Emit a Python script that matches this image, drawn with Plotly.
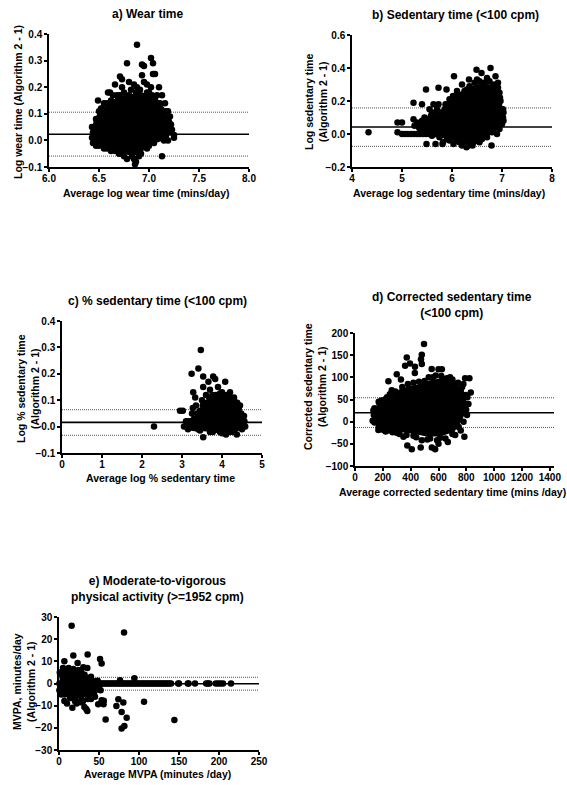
import plotly.graph_objects as go

W, H = 567, 785

# ---------------- data: a) Wear time ----------------
a_core = [(6.44, 0.03), (6.46, 0.07), (6.50, 0.10), (6.55, 0.12), (6.60, 0.13), (6.66, 0.15),
          (6.72, 0.16), (6.78, 0.15), (6.84, 0.17), (6.90, 0.18), (6.96, 0.17), (7.02, 0.16),
          (7.08, 0.15), (7.14, 0.12), (7.19, 0.08), (7.21, 0.04), (7.18, 0.01), (7.10, 0.00),
          (7.02, -0.01), (6.95, -0.03), (6.88, -0.05), (6.80, -0.05), (6.72, -0.04),
          (6.64, -0.03), (6.56, -0.02), (6.48, -0.01), (6.44, 0.00)]
a_points = [(6.88, 0.36), (6.78, 0.29), (6.93, 0.285), (6.95, 0.28), (7.02, 0.31), (7.04, 0.29),
            (6.71, 0.24), (6.73, 0.23), (6.93, 0.245), (7.04, 0.25), (7.06, 0.25), (6.66, 0.21),
            (6.73, 0.20), (6.80, 0.22), (6.85, 0.21), (6.88, 0.20), (6.98, 0.21), (6.59, 0.18),
            (6.61, 0.18), (6.49, 0.15), (6.52, 0.12), (7.02, 0.20), (7.10, 0.20), (7.13, 0.17),
            (7.16, 0.14), (7.19, 0.11), (7.21, 0.09), (7.23, 0.04), (7.25, 0.02), (7.25, 0.01),
            (7.22, 0.03), (6.86, -0.09), (6.87, -0.08), (6.85, -0.07), (7.13, -0.06), (6.78, -0.07),
            (6.75, -0.06), (6.70, -0.05), (6.62, -0.04), (6.55, -0.03), (6.47, -0.02), (6.44, 0.03),
            (6.43, 0.01), (6.45, 0.05), (6.55, 0.14), (6.64, 0.17), (6.68, 0.17), (6.75, 0.18),
            (6.82, 0.19), (6.95, 0.22), (7.00, 0.18), (7.08, 0.17), (6.92, -0.05), (7.00, -0.02),
            (7.15, 0.00),
            (6.47, 0.08), (6.50, 0.11), (6.53, 0.12), (6.58, 0.14), (6.62, 0.15), (6.69, 0.16),
            (6.71, 0.17), (6.77, 0.16), (6.80, 0.17), (6.87, 0.18), (6.91, 0.19), (6.98, 0.18),
            (7.03, 0.17), (7.06, 0.16), (7.11, 0.14), (7.17, 0.11), (7.20, 0.07), (7.22, 0.06),
            (7.19, 0.00), (7.05, -0.01), (6.98, -0.03), (6.90, -0.06), (6.83, -0.06),
            (6.73, -0.05), (6.66, -0.04), (6.58, -0.03), (6.50, -0.02), (6.44, -0.01), (6.43, 0.05)]
a_stats = (0.023, 0.106, -0.059)  # bias, upper LoA, lower LoA
a_xticks = [6.0, 6.5, 7.0, 7.5, 8.0]
a_yticks = [-0.1, 0.0, 0.1, 0.2, 0.3, 0.4]

# ---------------- data: b) Sedentary time ----------------
b_core = [(5.26, 0.044), (5.46, 0.085), (5.73, 0.115), (5.93, 0.166), (6.06, 0.22), (6.19, 0.25),
          (6.39, 0.28), (6.59, 0.30), (6.79, 0.29), (6.92, 0.27), (6.96, 0.206), (6.99, 0.145),
          (6.99, 0.065), (6.86, 0.024), (6.66, -0.016), (6.46, -0.056), (6.26, -0.066),
          (6.06, -0.036), (5.86, -0.016), (5.59, -0.006), (5.33, 0.0)]
b_points = [(4.33, 0.01), (4.91, 0.07), (5.0, 0.07), (4.91, 0.01), (5.0, 0.0), (5.06, 0.0),
            (5.12, 0.0), (5.18, 0.0), (5.24, 0.0), (5.30, 0.0), (5.36, 0.0), (5.42, 0.0),
            (5.48, 0.0), (5.23, 0.19), (5.48, 0.27), (5.73, 0.28), (5.89, 0.27), (6.04, 0.35),
            (6.34, 0.33), (6.49, 0.39), (6.59, 0.37), (6.77, 0.40), (6.87, 0.35), (6.92, 0.31),
            (6.85, 0.30), (6.95, 0.25), (6.97, 0.20), (7.02, 0.15), (7.0, 0.06), (7.02, 0.10),
            (5.49, -0.06), (5.67, -0.06), (5.81, -0.06), (5.82, -0.05), (6.03, -0.06),
            (6.29, -0.08), (6.41, -0.07), (6.79, -0.07), (5.40, 0.18), (5.63, 0.18), (5.73, 0.18),
            (5.87, 0.18), (5.23, 0.09), (5.30, 0.07), (5.35, 0.05), (5.55, 0.15), (5.60, 0.13),
            (5.45, 0.10), (5.70, 0.15), (5.95, 0.21), (6.10, 0.26), (6.20, 0.30), (6.30, 0.27),
            (6.50, 0.33), (6.70, 0.34), (6.15, -0.05), (6.50, -0.04), (6.60, -0.03), (6.90, 0.0),
            (6.20, -0.07), (5.95, -0.04),
            (5.25, 0.05), (5.32, 0.06), (5.40, 0.08), (5.50, 0.09), (5.58, 0.11), (5.66, 0.12),
            (5.78, 0.13), (5.85, 0.15), (5.90, 0.18), (5.98, 0.19), (6.02, 0.23), (6.12, 0.24),
            (6.25, 0.26), (6.35, 0.29), (6.45, 0.31), (6.55, 0.32), (6.64, 0.31), (6.75, 0.32),
            (6.82, 0.29), (6.92, 0.28), (6.96, 0.22), (7.03, 0.13), (7.03, 0.08), (6.95, 0.03),
            (6.80, 0.01), (6.70, -0.02), (6.55, -0.05), (6.40, -0.06), (6.33, -0.07),
            (6.10, -0.04), (5.90, -0.03), (5.75, -0.02), (5.60, -0.01), (5.54, 0.0)]
b_stats = (0.042, 0.158, -0.075)
b_xticks = [4, 5, 6, 7, 8]
b_yticks = [-0.2, 0.0, 0.2, 0.4, 0.6]

# ---------------- data: c) % sedentary time ----------------
c_core = [(3.12, 0.006), (3.41, 0.038), (3.58, 0.076), (3.74, 0.101), (3.95, 0.113),
          (4.16, 0.113), (4.33, 0.094), (4.45, 0.063), (4.52, 0.031), (4.53, 0.0),
          (4.37, -0.013), (4.12, -0.019), (3.87, -0.019), (3.62, -0.013), (3.37, -0.010),
          (3.12, -0.010)]
c_points = [(2.30, 0.0), (2.95, 0.06), (3.02, 0.06), (3.47, 0.29), (3.41, 0.22), (3.24, 0.20),
            (3.53, 0.19), (3.78, 0.19), (3.83, 0.18), (4.08, 0.17), (3.66, 0.17), (3.28, 0.13),
            (3.33, 0.11), (3.53, 0.15), (3.70, 0.14), (3.60, 0.12), (3.90, 0.15), (4.0, 0.13),
            (4.2, 0.13), (4.3, 0.11), (3.27, 0.07), (3.25, 0.05), (3.35, 0.08), (3.5, 0.10),
            (3.53, -0.04), (3.77, -0.02), (4.1, -0.03), (4.37, -0.03), (4.53, 0.02), (4.58, 0.0),
            (4.55, 0.04), (4.45, 0.08), (3.05, 0.0), (3.10, 0.0), (3.20, 0.0), (3.30, -0.005),
            (3.10, 0.02), (4.2, -0.02), (3.95, -0.02), (3.40, -0.01),
            (3.15, 0.02), (3.22, 0.02), (3.30, 0.03), (3.38, 0.05), (3.45, 0.06), (3.52, 0.08),
            (3.62, 0.09), (3.68, 0.11), (3.76, 0.12), (3.85, 0.12), (3.95, 0.125), (4.05, 0.12),
            (4.12, 0.12), (4.22, 0.11), (4.30, 0.10), (4.38, 0.09), (4.42, 0.07), (4.48, 0.05),
            (4.56, 0.02), (4.50, -0.01), (4.30, -0.02), (4.00, -0.025), (3.70, -0.02),
            (3.45, -0.015), (3.15, -0.01)]
c_stats = (0.016, 0.064, -0.033)
c_xticks = [0, 1, 2, 3, 4, 5]
c_yticks = [-0.1, 0.0, 0.1, 0.2, 0.3, 0.4]

# ---------------- data: d) Corrected sedentary time ----------------
d_core = [(156, 36), (204, 43), (276, 58), (324, 70), (396, 77), (468, 81), (540, 90), (612, 94),
          (683, 90), (731, 80), (779, 64), (788, 47), (788, 25), (755, 2), (707, -20), (612, -30),
          (516, -30), (420, -24), (324, -20), (228, -16), (168, -9), (144, 10)]
d_points = [(496, 175), (480, 151), (474, 141), (480, 130), (372, 145), (360, 126), (395, 131),
            (431, 124), (551, 119), (600, 118), (624, 118), (240, 91), (300, 107), (330, 95),
            (791, 98), (822, 98), (779, 85), (832, 66), (683, 100), (650, 95), (264, 71),
            (132, 25), (127, 2), (168, -19), (140, 20), (180, -15), (348, -34), (376, -54),
            (408, -62), (472, -58), (552, -58), (576, -62), (600, -50), (667, -46), (786, -34),
            (612, -36), (799, 27), (808, 55), (815, 40), (760, -20), (720, -30), (440, -35),
            (300, -25), (250, -20), (200, -18), (520, -40), (560, 100), (430, 110), (700, 85),
            (760, 70), (230, 55), (190, 48), (160, 25),
            (140, 30), (170, 45), (215, 50), (250, 62), (290, 68), (340, 78), (380, 85),
            (420, 88), (460, 90), (500, 92), (530, 100), (580, 104), (620, 103), (660, 98),
            (700, 95), (740, 88), (770, 78), (795, 60), (800, 40), (805, 15), (780, 0),
            (745, -12), (700, -28), (650, -38), (590, -42), (540, -38), (480, -42), (420, -32),
            (370, -30), (320, -28), (270, -24), (220, -22), (170, -12), (140, -2), (135, 15)]
d_stats = (20, 54, -13)
d_xticks = [0, 200, 400, 600, 800, 1000, 1200, 1400]
d_yticks = [-100, -50, 0, 50, 100, 150, 200]

# ---------------- data: e) MVPA ----------------
e_core = [(0.5, 4), (3, 5.5), (8, 5), (15, 5), (22, 4.5), (28, 3.5), (35, 2), (40, 1), (42, -1),
          (38, -4), (32, -5.5), (25, -6), (18, -6), (10, -5), (4, -3), (1, -1)]
e_points = [(15.8, 26), (81.3, 23), (6.7, 10), (17.9, 12.6), (23.3, 9.2), (35.8, 13.1),
            (51.3, 11), (53.3, 9), (30.4, 7.3), (35.4, 7), (94.2, 2.4), (76.3, 1.5), (48.3, 1.2),
            (6.7, -7.9), (16.7, -10.9), (31.7, -10.6), (35.4, -12.4), (34, -11.5), (49, -9.4),
            (55.7, -9.4), (53.3, -7.6), (56, -7.8), (58.3, -16.2), (71.7, -10.1), (74.2, -7.1),
            (80.4, -8.6), (78.3, -12.9), (84.6, -15.4), (78.3, -20.3), (81.7, -19.2),
            (106.3, -8.2), (144.2, -16.5), (4, 4), (10, 6), (24, 6), (28, 5), (40, 3), (45, -3),
            (50, -2), (45, -6), (40, -7), (27, -8.5), (20, -8), (12, -5), (2, -2), (44, -4),
            (38, -5.5), (30, -8), (22, -9), (15, -3), (25, -4), (8, 2), (0.5, 0), (47, -1.5),
            (52, -3), (10, -9),
            (1, 5), (5, 7), (12, 7), (18, 6.5), (25, 6), (32, 4), (38, 2.5), (44, 1), (46, -2),
            (42, -5), (36, -7), (28, -7), (20, -7.5), (14, -6.5), (7, -5), (3, -5), (0.5, -3)]
e_zero_x = [36, 38, 40, 42, 44, 46, 48, 50, 52, 54, 56, 58, 60, 62, 64, 66, 68, 70, 72, 74, 76,
            78, 80, 82, 84, 86, 88, 90, 92, 94, 96, 98, 100, 102, 104, 106, 108, 110, 112, 114,
            116, 118, 120, 122, 124, 126, 128, 130, 132, 134, 136, 138, 140,
            149, 150, 161, 162, 170, 184, 186, 188, 196, 199, 202, 205, 215]
e_stats = (-0.1, 2.8, -3.0)
e_xticks = [0, 50, 100, 150, 200, 250]
e_yticks = [-30, -20, -10, 0, 10, 20, 30]

# ---------------- layout helpers ----------------
def fx(p):
    return p / W

def fy(p):
    return 1 - p / H

FONT = "Liberation Sans, Arial, sans-serif"
fig = go.Figure()

panels = [
    ("a", a_core, a_points, a_stats, a_xticks, a_yticks, [6, 8], [-0.1, 0.4], ".1f", ".1f", (49, 249, 34, 167)),
    ("b", b_core, b_points, b_stats, b_xticks, b_yticks, [4, 8], [-0.2, 0.6], "d", ".1f", (352, 552, 35, 167)),
    ("c", c_core, c_points, c_stats, c_xticks, c_yticks, [0, 5], [-0.1, 0.4], "d", ".1f", (62, 262, 321, 453)),
    ("d", d_core, d_points, d_stats, d_xticks, d_yticks, [0, 1430], [-100, 200], "d", "d", (355, 554, 333, 466)),
    ("e", e_core, e_points, e_stats, e_xticks, e_yticks, [0, 250], [-30, 30], "d", "d", (59, 259, 617, 750)),
]

layout_axes = {}
for i, (name, core, pts, stats, xt, yt, xr, yr, fmx, fmy, box) in enumerate(panels):
    n = i + 1
    xa = "x" if n == 1 else f"x{n}"
    ya = "y" if n == 1 else f"y{n}"
    bias, up, lo = stats
    for val, dash, width, col in [(up, "1px,1px", 1, "#555555"), (lo, "1px,1px", 1, "#555555"),
                                  (bias, "solid", 1.6, "black")]:
        fig.add_trace(go.Scatter(x=[xr[0], xr[1]], y=[val, val], mode="lines",
                                 line=dict(color=col, width=width, dash=dash),
                                 xaxis=xa, yaxis=ya, showlegend=False, hoverinfo="skip"))
    fig.add_trace(go.Scatter(x=[p[0] for p in core], y=[p[1] for p in core], mode="lines",
                             fill="toself", fillcolor="black",
                             line=dict(color="black", width=3),
                             xaxis=xa, yaxis=ya, showlegend=False, hoverinfo="skip"))
    fig.add_trace(go.Scatter(x=[p[0] for p in pts], y=[p[1] for p in pts], mode="markers",
                             marker=dict(color="black", size=6.5),
                             xaxis=xa, yaxis=ya, showlegend=False, cliponaxis=False))
    if name == "e":
        fig.add_trace(go.Scatter(x=e_zero_x, y=[0] * len(e_zero_x), mode="markers",
                                 marker=dict(color="black", size=6.5),
                                 xaxis=xa, yaxis=ya, showlegend=False))
    x0, x1, y0, y1 = box
    axcommon = dict(showline=True, linecolor="black", linewidth=1.5, ticks="outside",
                    ticklen=3, tickwidth=1.5, tickcolor="black", showgrid=False, zeroline=False,
                    automargin=False,
                    tickfont=dict(family=FONT, size=10, color="black", weight="bold"))
    layout_axes["xaxis" if n == 1 else f"xaxis{n}"] = dict(
        domain=[fx(x0), fx(x1)], range=xr, anchor=ya, tickvals=xt, tickformat=fmx,
        ticklabelstandoff=-2, **axcommon)
    layout_axes["yaxis" if n == 1 else f"yaxis{n}"] = dict(
        domain=[fy(y1), fy(y0)], range=yr, anchor=xa, tickvals=yt, tickformat=fmy, **axcommon)

fig.update_layout(**layout_axes)

texts = [
    ("a) Wear time", 147, 14, 12, 0),
    ("Average log wear time (mins/day)", 146, 193, 10.5, 0),
    ("Log wear time (Algorithm 2 - 1)", 18, 102, 10.5, -90),
    ("b) Sedentary time (<100 cpm)", 455, 15, 12, 0),
    ("Average log sedentary time (mins/day)", 449, 193, 10.5, 0),
    ("Log sedentary time<br>(Algorithm 2 - 1)", 316, 102, 10.5, -90),
    ("c) % sedentary time (<100 cpm)", 157, 301, 12, 0),
    ("Average log % sedentary time", 160, 478, 10.5, 0),
    ("Log % sedentary time<br>(Algorithm 2 - 1)", 28, 389, 10.5, -90),
    ("d) Corrected sedentary time<br>(<100 cpm)", 452, 305, 12, 0),
    ("Average corrected sedentary time (mins /day)", 452, 492, 10.5, 0),
    ("Corrected sedentary time<br>(Algorithm 2 - 1)", 315, 387, 10.5, -90),
    ("e) Moderate-to-vigorous<br>physical activity (>=1952 cpm)", 157, 589, 12, 0),
    ("Average MVPA (minutes /day)", 157, 774, 10.5, 0),
    ("MVPA, minutes/day<br>(Algorithm 2 - 1)", 24, 682, 10.5, -90),
]
annots = []
for t, x, y, s, ang in texts:
    annots.append(dict(text=f"<b>{t}</b>", x=fx(x), y=fy(y), xref="paper", yref="paper",
                       xanchor="center", yanchor="middle", showarrow=False, textangle=ang,
                       font=dict(family=FONT, size=s, color="black")))
fig.update_layout(annotations=annots)

fig.update_layout(width=W, height=H, margin=dict(l=0, r=0, t=0, b=0, autoexpand=False),
                  paper_bgcolor="white", plot_bgcolor="white",
                  font=dict(family=FONT, color="black"), showlegend=False)

fig.write_html("out.html", config={"displayModeBar": False},
               post_script="document.body.style.margin='0';document.body.style.overflow='hidden';")
